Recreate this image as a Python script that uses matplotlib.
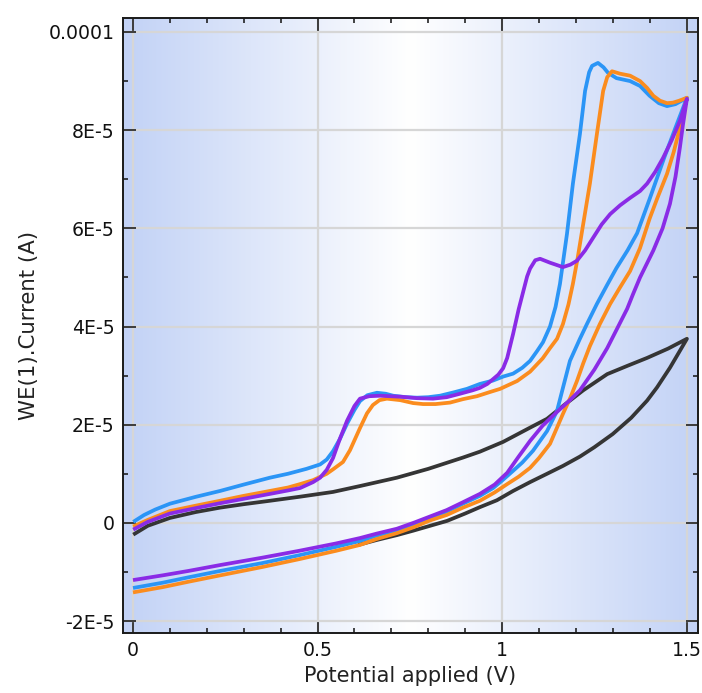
import numpy as np
import matplotlib
matplotlib.use("Agg")
import matplotlib.pyplot as plt
from matplotlib.ticker import FixedLocator, MultipleLocator

# potential (V) and current (uA); forward sweep then reverse sweep
blue_v = [0.005, 0.03, 0.06, 0.10, 0.17, 0.236, 0.30, 0.371, 0.42, 0.47, 0.507, 0.525, 0.542, 0.56, 0.58,
          0.60, 0.615, 0.635, 0.661, 0.685, 0.705, 0.74, 0.77, 0.80, 0.832, 0.87, 0.905, 0.94, 0.976, 1.003,
          1.03, 1.055, 1.076, 1.095, 1.111, 1.13, 1.145, 1.157, 1.176, 1.192, 1.211, 1.225, 1.236, 1.244,
          1.26, 1.275, 1.287, 1.31, 1.347, 1.374, 1.40, 1.425, 1.447, 1.47, 1.501,
          1.47, 1.44, 1.40, 1.366, 1.34, 1.31, 1.285, 1.257, 1.23, 1.211, 1.184, 1.165, 1.149, 1.122, 1.084,
          1.055, 1.03, 1.0, 0.976, 0.94, 0.894, 0.85, 0.805, 0.76, 0.715, 0.66, 0.615, 0.55, 0.45, 0.35,
          0.236, 0.15, 0.08, 0.005]
blue_i = [0.4, 1.6, 2.7, 3.9, 5.3, 6.5, 7.8, 9.2, 10.0, 11.0, 11.9, 12.9, 14.6, 17.0, 20.2,
          23.0, 24.8, 26.0, 26.5, 26.3, 25.9, 25.6, 25.5, 25.6, 25.9, 26.6, 27.3, 28.3, 29.0, 29.8,
          30.4, 31.6, 33.0, 35.0, 36.8, 40.0, 44.0, 48.7, 58.9, 69.1, 79.2, 88.0, 91.8, 93.1,
          93.7, 92.8, 91.7, 90.6, 90.0, 89.0, 87.0, 85.5, 84.9, 85.3, 86.6,
          80.5, 74.5, 66.0, 59.0, 55.5, 51.9, 48.5, 44.6, 40.5, 37.5, 33.0, 27.5, 22.8, 18.7, 14.7,
          12.3, 10.6, 8.6, 7.1, 5.5, 3.9, 2.3, 1.1, -0.3, -1.5, -2.6, -3.7, -4.9, -6.6, -8.2,
          -9.8, -11.1, -12.2, -13.2]

orange_v = [0.005, 0.04, 0.10, 0.17, 0.236, 0.30, 0.371, 0.42, 0.453, 0.488, 0.525, 0.542, 0.569, 0.588,
            0.60, 0.615, 0.634, 0.65, 0.668, 0.688, 0.724, 0.759, 0.786, 0.82, 0.859, 0.894, 0.932, 0.965,
            0.995, 1.041, 1.076, 1.11, 1.13, 1.149, 1.165, 1.18, 1.192, 1.205, 1.22, 1.238, 1.257, 1.274,
            1.285, 1.298, 1.32, 1.347, 1.374, 1.393, 1.41, 1.428, 1.447, 1.463, 1.48, 1.501,
            1.482, 1.465, 1.447, 1.42, 1.40, 1.374, 1.347, 1.32, 1.293, 1.265, 1.238, 1.22, 1.203, 1.185,
            1.165, 1.13, 1.10, 1.076, 1.045, 1.014, 0.98, 0.94, 0.894, 0.85, 0.805, 0.76, 0.715, 0.66,
            0.615, 0.55, 0.45, 0.35, 0.236, 0.15, 0.08, 0.005]
orange_i = [-0.6, 0.6, 2.4, 3.5, 4.5, 5.5, 6.5, 7.2, 7.9, 8.7, 10.0, 10.9, 12.4, 14.8,
            16.8, 19.3, 22.3, 24.0, 25.0, 25.3, 25.0, 24.4, 24.2, 24.2, 24.5, 25.2, 25.8, 26.6,
            27.3, 28.9, 30.8, 33.5, 35.6, 37.5, 40.5, 44.5, 48.7, 54.0, 60.9, 69.1, 79.2, 88.0,
            90.8, 92.0, 91.5, 91.1, 90.0, 88.6, 87.0, 86.0, 85.5, 85.6, 86.0, 86.6,
            80.5, 75.5, 71.1, 66.0, 62.0, 56.0, 51.3, 48.0, 44.6, 40.5, 36.0, 32.5, 28.9, 25.5,
            22.2, 16.1, 13.2, 11.2, 9.4, 7.9, 6.2, 4.5, 3.1, 1.6, 0.5, -0.9, -2.1, -3.3,
            -4.5, -5.7, -7.4, -9.0, -10.7, -12.0, -13.1, -14.1]

purple_v = [0.005, 0.04, 0.10, 0.17, 0.236, 0.30, 0.371, 0.42, 0.453, 0.488, 0.507, 0.525, 0.542, 0.56,
            0.58, 0.60, 0.615, 0.64, 0.669, 0.724, 0.77, 0.813, 0.85, 0.886, 0.92, 0.94, 0.96, 0.976,
            0.99, 1.003, 1.014, 1.03, 1.045, 1.057, 1.068, 1.076, 1.09, 1.103, 1.13, 1.165, 1.185, 1.203,
            1.225, 1.247, 1.27, 1.293, 1.32, 1.347, 1.374, 1.393, 1.415, 1.436, 1.46, 1.482, 1.501,
            1.49, 1.482, 1.47, 1.455, 1.435, 1.41, 1.374, 1.355, 1.339, 1.31, 1.285, 1.25, 1.211, 1.184,
            1.149, 1.11, 1.076, 1.045, 1.014, 0.98, 0.94, 0.894, 0.85, 0.805, 0.76, 0.715, 0.66, 0.615,
            0.55, 0.45, 0.35, 0.236, 0.15, 0.08, 0.005]
purple_i = [-1.2, 0.2, 1.9, 3.0, 4.0, 4.9, 5.9, 6.6, 7.1, 8.3, 9.2, 10.8, 13.2, 17.0,
            20.8, 23.8, 25.3, 25.8, 25.9, 25.7, 25.4, 25.3, 25.6, 26.3, 27.0, 27.5, 28.3, 29.3,
            30.2, 31.5, 33.6, 38.5, 43.5, 47.0, 50.2, 51.8, 53.5, 53.8, 53.0, 52.1, 52.6, 53.4,
            55.5, 58.1, 60.8, 62.9, 64.7, 66.2, 67.6, 69.1, 71.5, 74.3, 78.0, 81.9, 86.4,
            81.0, 76.5, 70.5, 65.0, 60.0, 55.5, 50.0, 46.6, 43.6, 39.3, 35.6, 31.2, 27.0, 25.0,
            22.6, 19.8, 16.7, 13.5, 10.2, 7.8, 5.9, 4.2, 2.6, 1.3, 0.0, -1.2, -2.2, -3.1,
            -4.2, -5.7, -7.1, -8.6, -9.8, -10.7, -11.6]

black_v = [0.005, 0.04, 0.10, 0.17, 0.236, 0.30, 0.371, 0.45, 0.542, 0.615, 0.715, 0.80, 0.894, 0.94,
           1.003, 1.076, 1.122, 1.165, 1.22, 1.285, 1.34, 1.393, 1.45, 1.501,
           1.48, 1.455, 1.42, 1.393, 1.35, 1.30, 1.25, 1.211, 1.165, 1.122, 1.076, 1.03, 0.986, 0.94,
           0.90, 0.851, 0.805, 0.759, 0.715, 0.66, 0.615]
black_i = [-2.2, -0.6, 1.0, 2.2, 3.1, 3.8, 4.5, 5.3, 6.3, 7.5, 9.2, 11.0, 13.3, 14.5,
           16.5, 19.4, 21.2, 23.8, 27.0, 30.3, 32.0, 33.6, 35.5, 37.5,
           34.8, 31.6, 27.6, 24.9, 21.4, 18.1, 15.4, 13.5, 11.6, 10.0, 8.3, 6.5, 4.6, 3.2,
           1.9, 0.4, -0.6, -1.6, -2.5, -3.5, -4.4]

x_ticks = [0, 0.5, 1, 1.5]
x_labels = ["0", "0.5", "1", "1.5"]
y_ticks = [-2e-5, 0, 2e-5, 4e-5, 6e-5, 8e-5, 1e-4]
y_labels = ["-2E-5", "0", "2E-5", "4E-5", "6E-5", "8E-5", "0.0001"]

plt.rcParams['font.family'] = ['DejaVu Sans']

fig = plt.figure(figsize=(7.02, 6.93), dpi=100)
ax = fig.add_axes([123 / 702, 1 - 633 / 693, 575 / 702, 615 / 693])

# horizontal background gradient: blue at both edges, white in the middle
edge = np.array([194, 210, 246]) / 255.0
t = np.abs(np.linspace(-1, 1, 400))
grad = 1 - t[:, None] * (1 - edge[None, :])
ax.imshow(grad[None, :, :], extent=[0, 1, 0, 1], transform=ax.transAxes,
          aspect='auto', zorder=0, interpolation='bilinear')

lw = 2.7
ax.plot(black_v, np.array(black_i) * 1e-6, color='#353535', lw=lw, solid_joinstyle='round', zorder=2)
ax.plot(blue_v, np.array(blue_i) * 1e-6, color='#2b95f6', lw=lw, solid_joinstyle='round', zorder=3)
ax.plot(orange_v, np.array(orange_i) * 1e-6, color='#fb8c1e', lw=lw, solid_joinstyle='round', zorder=4)
ax.plot(purple_v, np.array(purple_i) * 1e-6, color='#8a2be6', lw=lw, solid_joinstyle='round', zorder=5)

ax.set_xlim(-0.0271, 1.531)
ax.set_ylim(-2.244e-5, 1.0285e-4)

ax.xaxis.set_major_locator(FixedLocator(x_ticks))
ax.set_xticklabels(x_labels)
ax.xaxis.set_minor_locator(MultipleLocator(0.1))
ax.yaxis.set_major_locator(FixedLocator(y_ticks))
ax.set_yticklabels(y_labels)
ax.yaxis.set_minor_locator(MultipleLocator(1e-5))

ax.grid(True, which='major', color='#d6d6d6', lw=1.6, zorder=1)
ax.set_axisbelow(True)

ax.tick_params(which='both', direction='in', top=True, right=True, colors='#111111', width=1.1)
ax.tick_params(which='major', length=9, labelsize=13.6, pad=6)
ax.tick_params(which='minor', length=3.6)
for s in ax.spines.values():
    s.set_linewidth(1.4)
    s.set_color('#1a1a1a')

ax.set_xlabel('Potential applied (V)', fontsize=15, labelpad=4, color='#222222')
ax.set_ylabel('WE(1).Current (A)', fontsize=15.3, labelpad=7, color='#222222')

fig.savefig('out.png', dpi=100)
